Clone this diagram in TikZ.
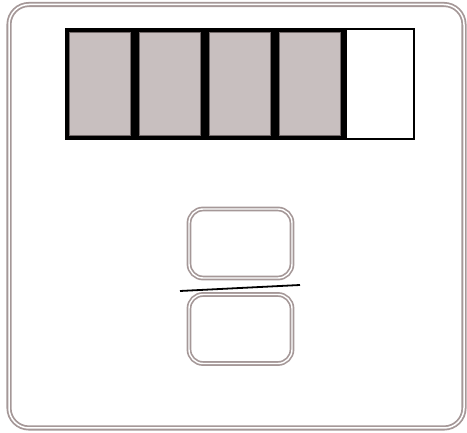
\documentclass[tikz,border=0pt]{standalone}
\usepackage{xcolor}
\usetikzlibrary{positioning}

\definecolor{framegray}{RGB}{165,152,152}
\definecolor{cellfill}{RGB}{200,191,191}

\begin{document}
\begin{tikzpicture}[x=1pt, y=-1pt,
  frame/.style={draw=framegray, double=white, double distance=1.5pt,
                line width=1.8pt, rounded corners=20pt},
  fullcell/.style={draw=black, line width=4pt, fill=cellfill,
                   minimum width=66pt, minimum height=108pt, inner sep=0pt},
  emptycell/.style={draw=black, line width=1.6pt, fill=white,
                    minimum width=68.4pt, minimum height=110.4pt, inner sep=0pt},
  cellrim/.style={draw=framegray!70!black, line width=0.7pt},
  slot/.style={draw=framegray, double=white, double distance=1.4pt,
               line width=1.7pt, rounded corners=14pt,
               minimum width=103pt, minimum height=69pt, inner sep=0pt},
  bar/.style={draw=black, line width=1.8pt},
]
\useasboundingbox (0,0) rectangle (467,433);
\draw[frame] (9,4.5) rectangle (464,428);

% row of cells
\node[fullcell] (cell1) at (100,84) {};
\node[fullcell, right=0pt of cell1] (cell2) {};
\node[fullcell, right=0pt of cell2] (cell3) {};
\node[fullcell, right=0pt of cell3] (cell4) {};
\node[emptycell, right=0pt of cell4] (cell5) {};
\foreach \c in {cell1,cell2,cell3,cell4}
  \draw[cellrim] ([shift={(4.4,4.4)}]\c.north west) rectangle
                 ([shift={(-4.4,-4.4)}]\c.south east);

% two slots with the dividing line
\node[slot] (upper) at (240.5,243.5) {};
\node[slot] (lower) at (240.5,329) {};
\coordinate (barL) at (180,291);
\coordinate (barR) at (300,285);
\draw[bar] (barL) -- (barR);
\end{tikzpicture}
\end{document}
